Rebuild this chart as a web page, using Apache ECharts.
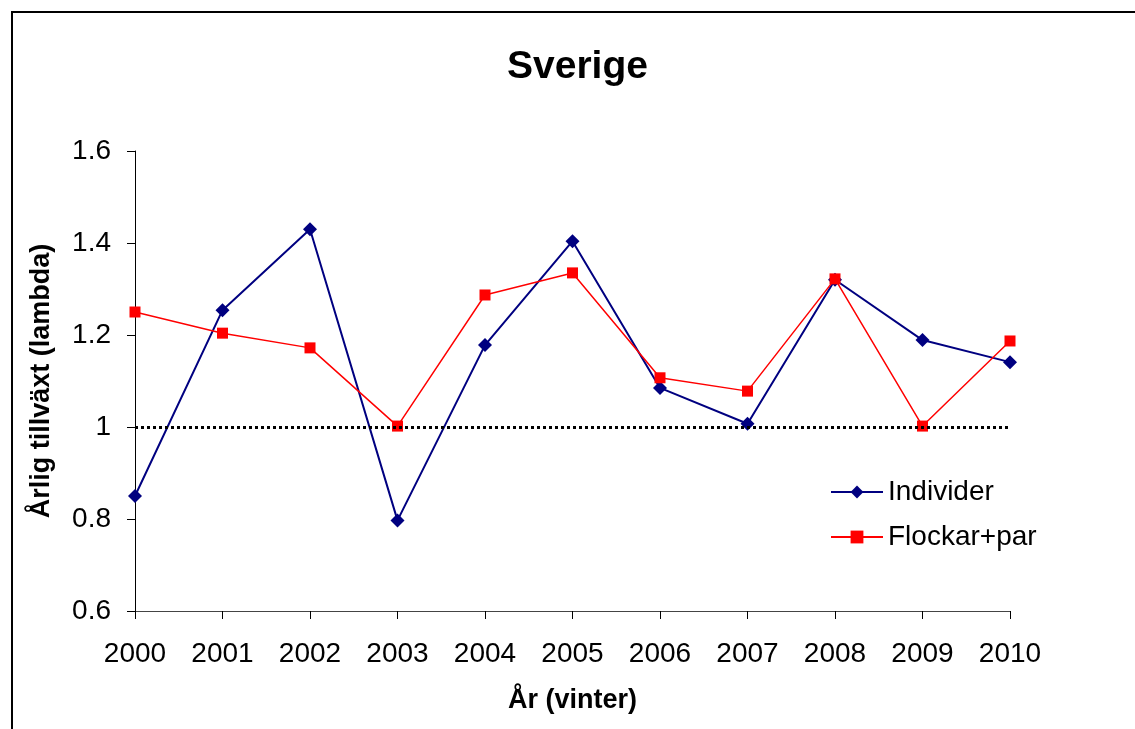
<!DOCTYPE html>
<html>
<head>
<meta charset="utf-8">
<script src="https://cdn.jsdelivr.net/npm/echarts@6/dist/echarts.min.js"></script>
<style>
html,body{margin:0;padding:0;background:#fff;}
#chart{width:1135px;height:729px;}
</style>
</head>
<body>
<div id="chart"></div>
<script>
const years = ['2000','2001','2002','2003','2004','2005','2006','2007','2008','2009','2010'];
const individer = [0.85, 1.254, 1.43, 0.797, 1.178, 1.404, 1.085, 1.007, 1.32, 1.189, 1.141];
const flockarPar = [1.25, 1.204, 1.172, 1.002, 1.287, 1.335, 1.107, 1.078, 1.322, 1.002, 1.187];
const referenceLevel = 1;
const yTicks = {min: 0.6, max: 1.6, interval: 0.2};

const chart = echarts.init(document.getElementById('chart'));
const font = 'Liberation Sans, Arial, sans-serif';
chart.setOption({
  animation: false,
  backgroundColor: '#fff',
  graphic: [{
    type: 'rect',
    shape: {x: 12, y: 12, width: 1200, height: 800},
    style: {fill: 'none', stroke: '#000', lineWidth: 2},
    silent: true,
    z: 100
  }],
  title: {
    text: 'Sverige',
    left: 502,
    top: 43,
    textStyle: {fontFamily: font, fontSize: 39, fontWeight: 'bold', color: '#000'}
  },
  legend: {
    orient: 'vertical',
    left: 825,
    top: 473,
    itemWidth: 52,
    itemHeight: 16,
    itemGap: 17,
    textStyle: {fontFamily: font, fontSize: 28, color: '#000', lineHeight: 28},
    data: ['Individer', 'Flockar+par']
  },
  grid: {left: 135, right: 125, top: 151, bottom: 118, containLabel: false},
  xAxis: {
    type: 'category',
    data: years,
    boundaryGap: false,
    name: 'År (vinter)',
    nameLocation: 'middle',
    nameGap: 76,
    nameTextStyle: {fontFamily: font, fontSize: 27, fontWeight: 'bold', color: '#000'},
    axisLine: {lineStyle: {color: '#444', width: 1}},
    axisTick: {show: true, inside: false, length: 8, lineStyle: {color: '#000'}},
    axisLabel: {fontFamily: font, fontSize: 28, color: '#000', margin: 29},
    splitLine: {show: false}
  },
  yAxis: {
    type: 'value',
    min: yTicks.min,
    max: yTicks.max,
    interval: yTicks.interval,
    name: 'Årlig tillväxt (lambda)',
    nameLocation: 'middle',
    nameRotate: 90,
    nameGap: 80,
    nameTextStyle: {fontFamily: font, fontSize: 27, fontWeight: 'bold', color: '#000'},
    axisLine: {show: true, lineStyle: {color: '#000', width: 1}},
    axisTick: {show: true, inside: false, length: 8, lineStyle: {color: '#000'}},
    axisLabel: {fontFamily: font, fontSize: 28, color: '#000', margin: 24},
    splitLine: {show: false}
  },
  series: [
    {
      name: 'Individer',
      type: 'line',
      data: individer,
      symbol: 'diamond',
      symbolSize: 14,
      itemStyle: {color: '#000080'},
      lineStyle: {color: '#000080', width: 2},
      z: 3,
      markLine: {
        silent: true,
        symbol: 'none',
        label: {show: false},
        lineStyle: {color: '#000', width: 3, type: [3, 3]},
        data: [[{coord: [years[0], referenceLevel]}, {coord: [years[years.length - 1], referenceLevel]}]]
      }
    },
    {
      name: 'Flockar+par',
      type: 'line',
      data: flockarPar,
      symbol: 'rect',
      symbolSize: 11,
      itemStyle: {color: '#ff0000'},
      lineStyle: {color: '#ff0000', width: 1.5},
      z: 4
    }
  ]
});
</script>
</body>
</html>
